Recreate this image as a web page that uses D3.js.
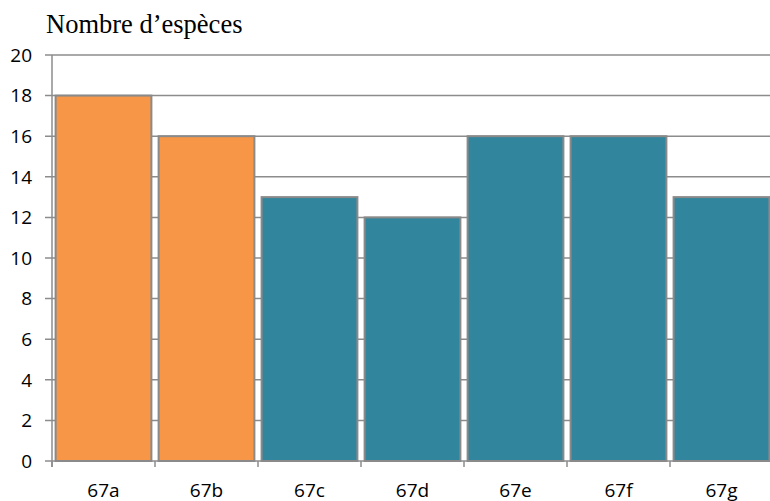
<!DOCTYPE html>
<html><head><meta charset="utf-8">
<script src="https://cdn.jsdelivr.net/npm/d3@7"></script>
<style>body{margin:0;background:#fff;}svg{display:block;}</style>
</head><body>
<svg id="c" width="770" height="501"></svg>
<script>
const categories = ["67a","67b","67c","67d","67e","67f","67g"];
const values = [18,16,13,12,16,16,13];
const colors = ["#F79646","#F79646","#31859C","#31859C","#31859C","#31859C","#31859C"];
const yTicks = [0,2,4,6,8,10,12,14,16,18,20];
const title = "Nombre d\u2019esp\u00e8ces";

(function(){
const svg = d3.select("#c");
const pLeft = 52, pRight = 773, pTop = 55, pBottom = 461;
const x = d3.scaleBand().domain(categories).range([pLeft, pRight]).paddingInner(0.07).paddingOuter(0.035);
const y = d3.scaleLinear().domain([0,20]).range([pBottom, pTop]);
const grid = "#8c8c8c";
const font = "'Open Sans', Lato, sans-serif";

svg.append("g").selectAll("line").data(yTicks).join("line")
  .attr("x1", pLeft - 7).attr("x2", 770)
  .attr("y1", d => y(d)).attr("y2", d => y(d))
  .attr("stroke", grid).attr("stroke-width", 1.5);

svg.append("line").attr("x1", pLeft).attr("x2", pLeft).attr("y1", pTop).attr("y2", pBottom + 6)
  .attr("stroke", grid).attr("stroke-width", 1.5);

const bounds = d3.range(categories.length + 1).map(i => pLeft + i * (pRight - pLeft) / categories.length);
svg.append("g").selectAll("line").data(bounds).join("line")
  .attr("x1", d => d).attr("x2", d => d).attr("y1", pBottom).attr("y2", pBottom + 6)
  .attr("stroke", grid).attr("stroke-width", 1.5);

svg.append("g").selectAll("rect").data(categories).join("rect")
  .attr("x", d => x(d)).attr("width", x.bandwidth())
  .attr("y", (d,i) => y(values[i])).attr("height", (d,i) => pBottom - y(values[i]))
  .attr("fill", (d,i) => colors[i])
  .attr("stroke", "#8a8a8a").attr("stroke-width", 2);

svg.append("g").selectAll("text").data(yTicks).join("text")
  .attr("x", 32).attr("y", d => y(d)).attr("dy", "0.36em")
  .attr("text-anchor", "end")
  .attr("font-family", font).attr("font-size", 19).attr("fill", "#000")
  .text(d => d);

svg.append("g").selectAll("text").data(categories).join("text")
  .attr("x", d => x(d) + x.bandwidth()/2).attr("y", 497)
  .attr("text-anchor", "middle")
  .attr("font-family", font).attr("font-size", 19).attr("fill", "#000")
  .text(d => d);

svg.append("text").attr("x", 46).attr("y", 33)
  .attr("font-family", "'Liberation Serif', 'Times New Roman', serif").attr("font-size", 26.5).attr("fill", "#000")
  .text(title);
})();
</script>
</body></html>
